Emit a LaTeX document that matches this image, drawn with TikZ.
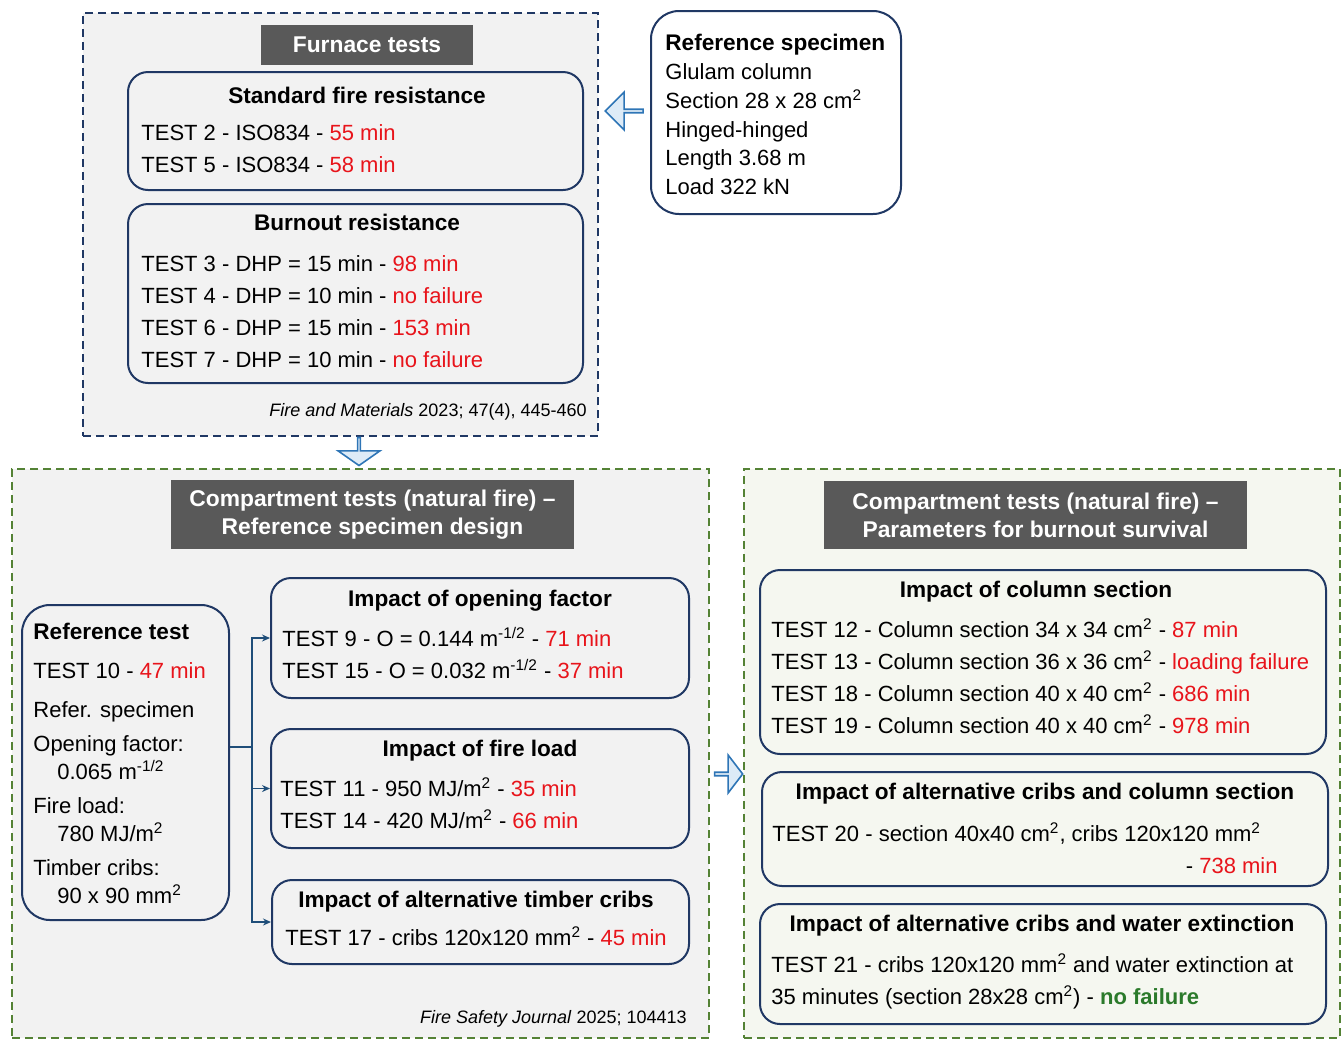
\documentclass[tikz,border=0pt]{standalone}
\usepackage{fontspec}
\setmainfont{Liberation Sans}
\usetikzlibrary{fit,shapes.arrows,arrows.meta}
\definecolor{navy}{HTML}{203864}
\definecolor{linkblue}{HTML}{1F4E79}
\definecolor{arrowblue}{HTML}{2E75B6}
\definecolor{arrowfill}{HTML}{DDEBF7}
\definecolor{panelgreen}{HTML}{548235}
\definecolor{bannergray}{HTML}{595959}
\definecolor{failred}{HTML}{E8141B}
\definecolor{okgreen}{HTML}{2B7A2B}
\definecolor{panelgray}{HTML}{F2F2F2}
\definecolor{paneltint}{HTML}{F5F7F0}
\newcommand{\res}[1]{\textcolor{failred}{#1}}
\newcommand{\sq}{\textsuperscript{2}}
\newcommand{\rt}{\textsuperscript{-1/2}}
\newcommand{\bodysize}{\fontsize{11}{12}\selectfont}
\newcommand{\headsize}{\fontsize{11.3}{12}\selectfont\bfseries}
\tikzset{
  panel/.style={draw, line width=0.8pt, dash pattern=on 4pt off 2.5pt, inner sep=0pt},
  card/.style={draw=navy, line width=1pt, rounded corners=10pt, inner sep=0pt},
  banner/.style={fill=bannergray, text=white, font=\fontsize{11.4}{14}\selectfont\bfseries, inner sep=0pt, align=center},
  txt/.style={anchor=west, inner sep=0pt, text height=7.8pt, text depth=0pt, font=\bodysize},
  head/.style={inner sep=0pt, text height=7.8pt, text depth=0pt, font=\headsize},
  cite/.style={anchor=east, inner sep=0pt, font=\fontsize{9}{11}\selectfont},
  blockarrow/.style={single arrow, draw=arrowblue, fill=arrowfill, line width=0.8pt, inner sep=0pt,
    minimum width=19pt, minimum height=19pt, single arrow head extend=4pt},
  link/.style={draw=linkblue, line width=0.6pt},
}
\begin{document}
\begin{tikzpicture}[x=0.5pt,y=-0.5pt]
\useasboundingbox (0,0) rectangle (1342,1040);
%furnace tests
\node[panel, draw=navy, fill=panelgray, fit={(83,13) (598,436)}] (furnace) {};
\node[banner, minimum width=106pt, minimum height=20pt] (furnacetitle) at (367,45) {Furnace tests};
\node[card, fit={(128,72) (583,190)}] (standard) {};
\node[head] (standardtitle) at (357,96) {Standard fire resistance};
\node[txt] (t2) at (141,133) {TEST 2 - ISO834 - \res{55 min}};
\node[txt] (t5) at (141,165) {TEST 5 - ISO834 - \res{58 min}};
\node[card, fit={(128,204) (583,383)}] (burnout) {};
\node[head] (burnouttitle) at (357,223) {Burnout resistance};
\node[txt] (t3) at (141,264) {TEST 3 - DHP = 15 min - \res{98 min}};
\node[txt] (t4) at (141,296) {TEST 4 - DHP = 10 min - \res{no failure}};
\node[txt] (t6) at (141,328) {TEST 6 - DHP = 15 min - \res{153 min}};
\node[txt] (t7) at (141,360) {TEST 7 - DHP = 10 min - \res{no failure}};
\node[cite] (furnacecite) at (587,412) {\textit{Fire and Materials} 2023; 47(4), 445-460};
%reference specimen
\node[card, fill=white, rounded corners=14pt, fit={(651,11) (901,214)}] (specimen) {};
\node[txt, font=\headsize] (specimentitle) at (665,43) {Reference specimen};
\node[txt] (s1) at (665,72) {Glulam column};
\node[txt] (s2) at (665,101) {Section 28 x 28 cm\sq};
\node[txt] (s3) at (665,130) {Hinged-hinged};
\node[txt] (s4) at (665,158) {Length 3.68 m};
\node[txt] (s5) at (665,187) {Load 322 kN};
\node[blockarrow, shape border rotate=180] (toleft) at (625,111) {};
\node[blockarrow, minimum width=21pt, minimum height=14pt, single arrow head extend=5.5pt,
  single arrow tip angle=110, shape border rotate=270] (todown) at (359,451) {};
%compartment tests - reference design
\node[panel, draw=panelgreen, fill=panelgray, fit={(12,469) (709,1038)}] (design) {};
\node[banner, minimum width=201.5pt, minimum height=34.5pt] (designtitle) at (372.5,514.5)
  {Compartment tests (natural fire) --\\Reference specimen design};
\node[card, rounded corners=14pt, fit={(22,605) (229,920)}] (reftest) {};
\node[txt, font=\headsize] (reftitle) at (33,632) {Reference test};
\node[txt] (r1) at (33,671) {TEST 10 - \res{47 min}};
\node[txt] (r2) at (33,710) {Refer. specimen};
\node[txt] (r3) at (33,744) {Opening factor:};
\node[txt] (r4) at (57,772) {0.065 m\rt};
\node[txt] (r5) at (33,806) {Fire load:};
\node[txt] (r6) at (57,834) {780 MJ/m\sq};
\node[txt] (r7) at (33,868) {Timber cribs:};
\node[txt] (r8) at (57,896) {90 x 90 mm\sq};
\node[card, fit={(271,578) (689,698)}] (opening) {};
\node[head] (openingtitle) at (480,599) {Impact of opening factor};
\node[txt] (t9) at (282,639) {TEST 9 - O = 0.144 m\rt{} - \res{71 min}};
\node[txt] (t15) at (282,671) {TEST 15 - O = 0.032 m\rt{} - \res{37 min}};
\node[card, fit={(271,729) (689,848)}] (fireload) {};
\node[head] (fireloadtitle) at (480,749) {Impact of fire load};
\node[txt] (t11) at (280,789) {TEST 11 - 950 MJ/m\sq{} - \res{35 min}};
\node[txt] (t14) at (280,821) {TEST 14 - 420 MJ/m\sq{} - \res{66 min}};
\node[card, fit={(272,880) (689,964)}] (cribs) {};
\node[head] (cribstitle) at (476,900) {Impact of alternative timber cribs};
\node[txt] (t17) at (285,938) {TEST 17 - cribs 120x120 mm\sq{} - \res{45 min}};
\node[cite] (designcite) at (687,1019) {\textit{Fire Safety Journal} 2025; 104413};
\coordinate (split) at (252,747);
\draw[link] (reftest.east |- split) -- (split);
\draw[link, -{Stealth[length=4pt,width=3.5pt]}] (split) |- (opening.west);
\draw[link, -{Stealth[length=4pt,width=3.5pt]}] (split) |- (fireload.west);
\draw[link, -{Stealth[length=4pt,width=3.5pt]}] (split) |- (cribs.west);
\node[blockarrow, minimum height=14pt, single arrow tip angle=105] (toright) at (728,774) {};
%compartment tests - burnout survival
\node[panel, draw=panelgreen, fill=paneltint, fit={(744,469) (1340,1038)}] (survival) {};
\node[banner, minimum width=211.5pt, minimum height=34pt] (survivaltitle) at (1035.5,515)
  {Compartment tests (natural fire) --\\Parameters for burnout survival};
\node[card, fit={(760,570) (1326,754)}] (section) {};
\node[head] (sectiontitle) at (1036,590) {Impact of column section};
\node[txt] (t12) at (771,630) {TEST 12 - Column section 34 x 34 cm\sq{} - \res{87 min}};
\node[txt] (t13) at (771,662) {TEST 13 - Column section 36 x 36 cm\sq{} - \res{loading failure}};
\node[txt] (t18) at (771,694) {TEST 18 - Column section 40 x 40 cm\sq{} - \res{686 min}};
\node[txt] (t19) at (771,726) {TEST 19 - Column section 40 x 40 cm\sq{} - \res{978 min}};
\node[card, fit={(762,772) (1328,886)}] (altsection) {};
\node[head] (altsectiontitle) at (1045,792) {Impact of alternative cribs and column section};
\node[txt] (t20) at (772,834) {TEST 20 - section 40x40 cm\sq, cribs 120x120 mm\sq};
\node[txt, anchor=east] (t20res) at (1278,866) {- \res{738 min}};
\node[card, fit={(760,904) (1326,1024)}] (water) {};
\node[head] (watertitle) at (1042,924) {Impact of alternative cribs and water extinction};
\node[txt] (t21) at (771,965) {TEST 21 - cribs 120x120 mm\sq{} and water extinction at};
\node[txt] (t21b) at (771,997) {35 minutes (section 28x28 cm\sq) - \textcolor{okgreen}{\bfseries no failure}};
\end{tikzpicture}
\end{document}
